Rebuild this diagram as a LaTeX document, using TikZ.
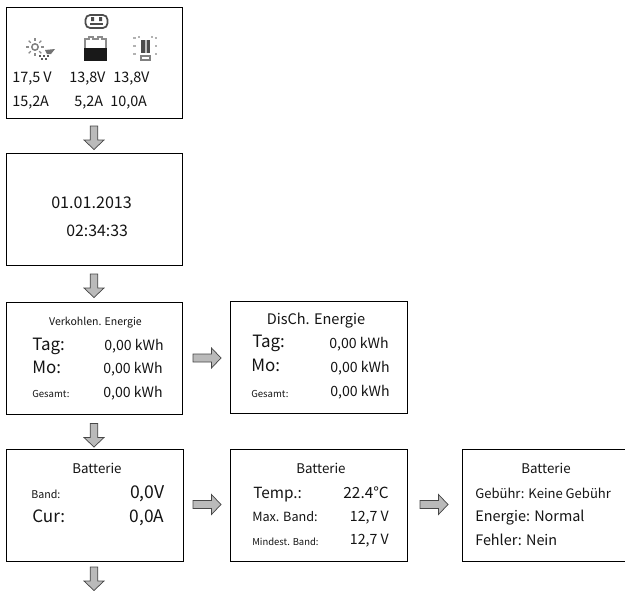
\documentclass[tikz,border=0pt]{standalone}
\usepackage{fontspec}
\setmainfont{Noto Sans CJK SC}
\newcommand{\fs}[1]{\fontsize{#1}{#1}\selectfont}
\tikzset{
  x=0.75pt,y=-0.75pt,
  screen/.style={draw=black,line width=0.7pt,fill=white,rectangle,inner sep=0pt,anchor=north west},
  lab/.style={inner sep=0pt,anchor=base west,text=black!92},
  labr/.style={inner sep=0pt,anchor=base east,text=black!92},
  labc/.style={inner sep=0pt,anchor=base,text=black!92},
  blockarrow/.style={draw=black!72,line width=0.55pt,fill=black!27,line join=miter},
  downblock/.pic={\path[blockarrow] (-3.8,0)--(3.8,0)--(3.8,14)--(10,14)--(0,23.5)--(-10,14)--(-3.8,14)--cycle;},
  rightblock/.pic={\path[blockarrow] (0,-4)--(18.5,-4)--(18.5,-10)--(28,0)--(18.5,10)--(18.5,4)--(0,4)--cycle;},
}
\begin{document}
\begin{tikzpicture}
\useasboundingbox (0,0) rectangle (625,590);
% screens
\node[screen,minimum width=132pt,minimum height=83.25pt] (s1) at (6,7) {};
\node[screen,minimum width=132pt,minimum height=84pt] (s2) at (6,152.5) {};
\node[screen,minimum width=132pt,minimum height=84pt] (s3) at (6,302) {};
\node[screen,minimum width=132.75pt,minimum height=84pt] (s4) at (229.5,301) {};
\node[screen,minimum width=132.75pt,minimum height=84pt] (s5) at (6,449) {};
\node[screen,minimum width=132.75pt,minimum height=84pt] (s6) at (230,449) {};
\node[screen,minimum width=130pt,minimum height=84pt] (s7) at (462,449) {};
% arrows
\pic at (94,126) {downblock};
\pic at (94,274) {downblock};
\pic at (94,423.5) {downblock};
\pic at (94,567) {downblock};
\pic at (193,358) {rightblock};
\pic at (193,504.5) {rightblock};
\pic at (420,504.5) {rightblock};
% icons
\draw[black!70,line width=1.3pt,rounded corners=3.5pt] (85.5,15) rectangle (107.5,28);
\draw[black!70,line width=1.1pt] (90,24)--(103,24);
\fill[black!70] (91,17) rectangle (94,21) (99,17) rectangle (102,21);
\draw[black!45,line width=0.9pt] (85,48)--(85,39)--(89,39)--(89,37)--(93,37)--(93,39)--(98,39)--(98,37)--(102,37)--(102,39)--(106,39)--(106,48);
\fill[black!90] (84,48) rectangle (107,61);
\foreach \a in {0,45,...,315}{\draw[black!45,line width=0.9pt] (35,47)+(\a:6)--+(\a:9);}
\draw[black!50,line width=1.1pt] (35,47) circle (3.2);
\fill[black!55] (45,50)--(55,49)--(51,54)--(47,54)--cycle;
\foreach \p/\q in {40/56,44/56,48/56,42/59,46/59}{\fill[black!65] (\p-1.3,\q-1.3) rectangle (\p+1.3,\q+1.3);}
\fill[black!70] (141,40) rectangle (150,53);
\fill[black!25] (144.5,40) rectangle (146.5,53);
\draw[black!50,line width=1pt] (141,56) rectangle (150,60);
\foreach \p in {134.5,156}{\foreach \q in {38,46,54}{\fill[black!30] (\p-1.2,\q-1.2) rectangle (\p+1.2,\q+1.2);}}
\foreach \p in {139,152}{\fill[black!30] (\p-1,36) rectangle (\p+1,38);}
% s1 text
\node[lab] (a1) at (12,82) {\fs{10.8}17,5 V};
\node[lab] (a2) at (69,82) {\fs{10.8}13,8V};
\node[lab] (a3) at (113,82) {\fs{10.8}13,8V};
\node[lab] (a4) at (12,106) {\fs{10.8}15,2A};
\node[lab] (a5) at (74,106) {\fs{10.8}5,2A};
\node[lab] (a6) at (110,106) {\fs{10.8}10,0A};
% s2 text
\node[lab] (d1) at (51,208) {\fs{12.1}01.01.2013};
\node[lab] (d2) at (66,236) {\fs{11.9}02:34:33};
% s3 text
\node[labc] (t1) at (95.5,325) {\fs{7.9}Verkohlen. Energie};
\node[lab] (t2) at (32,350) {\fs{12.7}Tag:};
\node[labr] (t3) at (164,350) {\fs{10.6}0,00 kWh};
\node[lab] (t4) at (32,373) {\fs{12.7}Mo:};
\node[labr] (t5) at (163,373) {\fs{10.6}0,00 kWh};
\node[lab] (t6) at (32,397) {\fs{7.2}Gesamt:};
\node[labr] (t7) at (163,397) {\fs{10.6}0,00 kWh};
% s4 text
\node[labc] (u1) at (316,324) {\fs{10.9}DisCh. Energie};
\node[lab] (u2) at (252,347) {\fs{12.7}Tag:};
\node[labr] (u3) at (389,348) {\fs{10.6}0,00 kWh};
\node[lab] (u4) at (251,371) {\fs{12.7}Mo:};
\node[labr] (u5) at (390,372) {\fs{10.6}0,00 kWh};
\node[lab] (u6) at (251,397) {\fs{7.2}Gesamt:};
\node[labr] (u7) at (390,396) {\fs{10.6}0,00 kWh};
% s5 text
\node[labc] (v1) at (97,473) {\fs{10}Batterie};
\node[lab] (v2) at (31,498) {\fs{8}Band:};
\node[labr] (v3) at (165,498) {\fs{13.2}0,0V};
\node[lab] (v4) at (32,522) {\fs{12.8}Cur:};
\node[labr] (v5) at (164.5,522) {\fs{13}0,0A};
% s6 text
\node[labc] (w1) at (321,473) {\fs{10}Batterie};
\node[lab] (w2) at (253,498) {\fs{11.5}Temp.:};
\node[labr] (w3) at (389,498) {\fs{11.5}22.4°C};
\node[lab] (w4) at (252,521) {\fs{9.5}Max. Band:};
\node[labr] (w5) at (389,521) {\fs{10.6}12,7 V};
\node[lab] (w6) at (252,545) {\fs{7.1}Mindest. Band:};
\node[labr] (w7) at (389,544) {\fs{10.6}12,7 V};
% s7 text
\node[labc] (x1) at (546,473) {\fs{10}Batterie};
\node[lab] (x2) at (475,498) {\fs{9.8}Gebühr: Keine Gebühr};
\node[lab] (x3) at (475,521) {\fs{10.8}Energie: Normal};
\node[lab] (x4) at (475,545) {\fs{10.8}Fehler: Nein};
\end{tikzpicture}
\end{document}
